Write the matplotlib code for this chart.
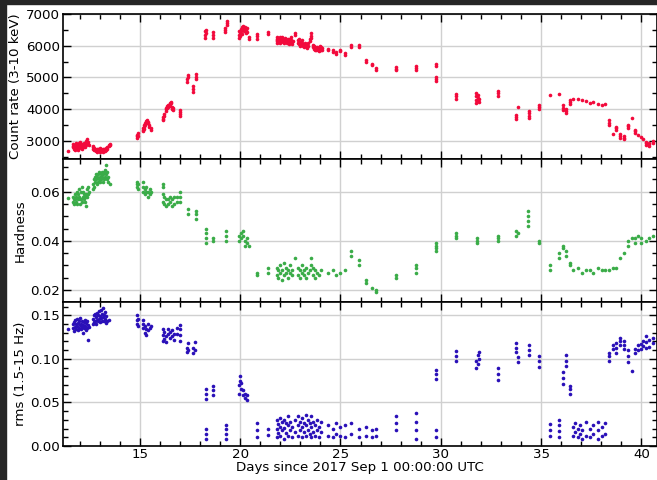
import numpy as np
import matplotlib
matplotlib.use('Agg')
import matplotlib.pyplot as plt
from matplotlib.ticker import MultipleLocator
from matplotlib.patches import Rectangle

# count rate (3-10 keV): (day, counts/s)
rate_obs = [
    (11.43, 2690),
    (11.68, 2850), (11.68, 2800), (11.68, 2900), (11.72, 2750), (11.72, 2820),
    (11.78, 2700), (11.78, 2780), (11.78, 2850), (11.83, 2880), (11.83, 2950),
    (11.88, 2800), (11.88, 2870), (11.93, 2720), (11.93, 2760), (11.98, 2800),
    (11.98, 2880), (11.98, 2950), (12.03, 2900), (12.03, 2970), (12.08, 2850),
    (12.08, 2780), (12.13, 2760), (12.13, 2820), (12.13, 2900), (12.18, 2850),
    (12.18, 2800), (12.23, 2880), (12.23, 2940), (12.28, 2820), (12.28, 2900),
    (12.33, 2860), (12.33, 2950), (12.33, 3000), (12.38, 2950), (12.38, 3050),
    (12.42, 2900), (12.42, 2980), (12.47, 2860),
    (12.66, 2850), (12.66, 2800), (12.66, 2750), (12.70, 2780), (12.70, 2720),
    (12.75, 2700), (12.75, 2760), (12.80, 2680), (12.80, 2720), (12.85, 2650),
    (12.85, 2700), (12.85, 2760), (12.90, 2700), (12.90, 2740), (12.95, 2680),
    (12.95, 2720), (13.00, 2660), (13.00, 2700), (13.00, 2780), (13.05, 2700),
    (13.05, 2740), (13.10, 2680), (13.10, 2720), (13.15, 2660), (13.15, 2760),
    (13.20, 2700), (13.20, 2740), (13.25, 2680), (13.25, 2720), (13.30, 2720),
    (13.30, 2780), (13.38, 2760), (13.38, 2820), (13.45, 2840), (13.45, 2880),
    (13.50, 2860), (13.50, 2900),
    (14.85, 3100), (14.85, 3150), (14.85, 3200), (14.92, 3150), (14.92, 3250),
    (15.17, 3300), (15.17, 3350), (15.17, 3400), (15.22, 3380), (15.22, 3450),
    (15.22, 3500), (15.28, 3500), (15.28, 3560), (15.33, 3550), (15.33, 3620),
    (15.38, 3600), (15.38, 3650), (15.43, 3560), (15.43, 3600), (15.48, 3450),
    (15.48, 3500), (15.55, 3350), (15.55, 3400),
    (16.16, 3650), (16.16, 3700), (16.16, 3750), (16.20, 3800), (16.20, 3850),
    (16.28, 3950), (16.28, 4000), (16.28, 4050), (16.35, 4050), (16.35, 4100),
    (16.42, 4080), (16.42, 4120), (16.50, 4100), (16.50, 4150), (16.50, 4200),
    (16.56, 4180), (16.56, 4230), (16.62, 4080), (16.62, 4000), (16.66, 4050),
    (16.66, 3980),
    (17.00, 3800), (17.00, 3850), (17.00, 3900), (17.00, 3960),
    (17.36, 4850), (17.36, 4950), (17.42, 5000), (17.42, 5080),
    (17.66, 4550), (17.66, 4650), (17.66, 4720),
    (17.80, 4950), (17.80, 5030), (17.80, 5100),
    (18.27, 6250), (18.27, 6350), (18.27, 6450), (18.31, 6400), (18.31, 6500),
    (18.65, 6250), (18.65, 6330), (18.65, 6420),
    (19.23, 6420), (19.23, 6500), (19.23, 6560), (19.32, 6650), (19.32, 6720),
    (19.32, 6790),
    (19.95, 6250), (19.95, 6350), (19.95, 6450), (20.00, 6300), (20.00, 6400),
    (20.05, 6450), (20.05, 6520), (20.10, 6380), (20.10, 6500), (20.10, 6580),
    (20.15, 6550), (20.15, 6620), (20.20, 6450), (20.20, 6520), (20.25, 6500),
    (20.25, 6600), (20.30, 6400), (20.30, 6480), (20.35, 6420), (20.35, 6550),
    (20.44, 6200), (20.44, 6260),
    (20.84, 6220), (20.84, 6300), (20.84, 6360),
    (21.39, 6360), (21.39, 6420),
    (21.82, 6150), (21.82, 6220), (21.82, 6280), (21.86, 6100), (21.86, 6180),
    (21.90, 6200), (21.90, 6250), (21.95, 6130), (21.95, 6200), (22.00, 6100),
    (22.00, 6180), (22.00, 6260), (22.05, 6150), (22.05, 6230), (22.10, 6200),
    (22.10, 6270), (22.15, 6130), (22.15, 6210), (22.20, 6100), (22.20, 6190),
    (22.25, 6180), (22.25, 6240), (22.30, 6120), (22.30, 6200), (22.35, 6080),
    (22.35, 6150), (22.40, 6130), (22.40, 6210), (22.45, 6050), (22.45, 6140),
    (22.50, 6100), (22.50, 6200), (22.55, 6180), (22.55, 6260), (22.60, 6070),
    (22.60, 6120), (22.64, 6150),
    (22.72, 6350), (22.72, 6400),
    (22.90, 6100), (22.90, 6170), (22.95, 6050), (22.95, 6130), (22.95, 6200),
    (23.00, 6000), (23.00, 6080), (23.05, 6050), (23.05, 6120), (23.10, 6100),
    (23.10, 6180), (23.15, 6050), (23.15, 6000), (23.20, 5950), (23.20, 6030),
    (23.25, 6000), (23.25, 6080), (23.30, 5980), (23.30, 6050), (23.35, 5920),
    (23.35, 6000), (23.40, 6000), (23.40, 6100), (23.47, 6150), (23.47, 6220),
    (23.55, 6250), (23.55, 6320), (23.55, 6400),
    (23.62, 5950), (23.62, 6020), (23.67, 5900), (23.67, 5980), (23.72, 5880),
    (23.72, 5950), (23.78, 5850), (23.78, 5930), (23.83, 5900), (23.83, 5970),
    (23.88, 5860), (23.88, 5940), (23.93, 5820), (23.93, 5900), (23.98, 5900),
    (23.98, 5980), (24.03, 5880), (24.03, 5960), (24.08, 5870), (24.08, 5920),
    (24.38, 5850), (24.38, 5910), (24.63, 5800), (24.63, 5860), (24.79, 5740),
    (24.79, 5800), (25.00, 5820), (25.00, 5880), (25.24, 5720), (25.24, 5780),
    (25.54, 5950), (25.54, 6010), (25.92, 5950), (25.92, 6020),
    (26.25, 5480), (26.25, 5540), (26.59, 5380), (26.59, 5430), (26.79, 5240),
    (26.79, 5290),
    (27.78, 5220), (27.78, 5280), (27.78, 5340),
    (28.78, 5220), (28.78, 5290), (28.78, 5360),
    (29.74, 5350), (29.74, 5420), (29.74, 4880), (29.74, 4950), (29.74, 5020),
    (30.77, 4330), (30.77, 4400), (30.77, 4470),
    (31.77, 4200), (31.77, 4300), (31.77, 4400), (31.77, 4500), (31.83, 4250),
    (31.83, 4350), (31.83, 4450), (31.90, 4220), (31.90, 4320),
    (32.84, 4430), (32.84, 4500), (32.84, 4560),
    (33.76, 3680), (33.76, 3750), (33.76, 3820), (33.87, 4060),
    (34.39, 3720), (34.39, 3800), (34.39, 3880), (34.39, 3930),
    (34.89, 4000), (34.89, 4060), (34.89, 4120),
    (35.42, 4450), (35.87, 4480),
    (36.08, 3970), (36.08, 4050), (36.08, 4120), (36.25, 3880), (36.25, 3950),
    (36.25, 4000), (36.45, 4150), (36.45, 4220), (36.45, 4290),
    (36.61, 4320), (36.83, 4330), (37.05, 4280), (37.24, 4250), (37.44, 4190),
    (37.61, 4220), (37.81, 4170), (38.01, 4140), (38.19, 4170),
    (38.37, 3510), (38.37, 3580), (38.37, 3650), (38.57, 3220),
    (38.74, 3330), (38.74, 3400), (38.74, 3450),
    (38.95, 3090), (38.95, 3160), (38.95, 3220), (39.15, 3060), (39.15, 3100),
    (39.15, 3140), (39.34, 3410), (39.34, 3460), (39.34, 3500), (39.52, 3710),
    (39.70, 3250), (39.70, 3300), (39.70, 3350), (39.85, 3190), (39.99, 3120),
    (40.07, 3060), (40.23, 2880), (40.23, 2930), (40.23, 2980),
    (40.40, 2830), (40.40, 2900), (40.40, 2950), (40.56, 2950), (40.56, 3000),
]

# hardness ratio: (day, hardness)
hard_obs = [
    (11.43, 0.0576),
    (11.68, 0.056), (11.68, 0.058), (11.73, 0.055), (11.73, 0.057), (11.78, 0.057),
    (11.78, 0.059), (11.83, 0.056), (11.83, 0.058), (11.88, 0.055), (11.88, 0.060),
    (11.93, 0.057), (11.93, 0.059), (11.98, 0.058), (11.98, 0.061), (12.03, 0.055),
    (12.03, 0.057), (12.08, 0.057), (12.08, 0.060), (12.13, 0.056), (12.13, 0.062),
    (12.18, 0.058), (12.18, 0.060), (12.23, 0.057), (12.23, 0.059), (12.28, 0.056),
    (12.28, 0.058), (12.33, 0.054), (12.33, 0.059), (12.38, 0.058), (12.38, 0.061),
    (12.43, 0.059), (12.43, 0.062), (12.47, 0.060),
    (12.66, 0.061), (12.66, 0.063), (12.72, 0.062), (12.72, 0.065), (12.78, 0.064),
    (12.78, 0.066), (12.83, 0.065), (12.83, 0.067), (12.88, 0.063), (12.88, 0.066),
    (12.93, 0.064), (12.93, 0.067), (12.98, 0.065), (12.98, 0.068), (13.03, 0.066),
    (13.03, 0.064), (13.08, 0.065), (13.08, 0.067), (13.13, 0.066), (13.13, 0.068),
    (13.18, 0.064), (13.18, 0.067), (13.23, 0.065), (13.23, 0.068), (13.28, 0.066),
    (13.28, 0.069), (13.33, 0.067), (13.33, 0.071), (13.38, 0.065), (13.38, 0.068),
    (13.43, 0.064), (13.43, 0.066), (13.50, 0.063),
    (14.85, 0.062), (14.85, 0.063), (14.85, 0.064), (14.92, 0.061), (14.92, 0.063),
    (15.17, 0.060), (15.17, 0.062), (15.17, 0.064), (15.25, 0.059), (15.25, 0.061),
    (15.33, 0.060), (15.33, 0.062), (15.40, 0.058), (15.40, 0.060), (15.50, 0.059),
    (15.50, 0.061), (15.58, 0.060),
    (16.16, 0.056), (16.16, 0.059), (16.16, 0.062), (16.16, 0.063), (16.22, 0.055),
    (16.22, 0.058), (16.30, 0.054), (16.30, 0.057), (16.40, 0.055), (16.40, 0.057),
    (16.50, 0.056), (16.50, 0.058), (16.60, 0.054), (16.60, 0.057), (16.70, 0.055),
    (16.70, 0.058), (16.83, 0.056), (16.83, 0.058),
    (16.99, 0.056), (16.99, 0.058), (16.99, 0.060),
    (17.39, 0.051), (17.39, 0.053), (17.79, 0.049), (17.79, 0.051), (17.79, 0.052),
    (18.29, 0.039), (18.29, 0.041), (18.29, 0.043), (18.29, 0.045),
    (18.65, 0.040), (18.65, 0.041),
    (19.30, 0.040), (19.30, 0.042), (19.30, 0.044),
    (19.95, 0.040), (19.95, 0.042), (20.05, 0.041), (20.05, 0.043), (20.15, 0.042),
    (20.15, 0.044), (20.25, 0.040), (20.25, 0.038), (20.35, 0.039), (20.35, 0.041),
    (20.44, 0.038),
    (20.84, 0.026), (20.84, 0.027), (21.39, 0.027), (21.39, 0.029),
    (21.82, 0.026), (21.82, 0.029), (21.90, 0.025), (21.90, 0.028), (22.00, 0.027),
    (22.00, 0.030), (22.10, 0.024), (22.10, 0.028), (22.20, 0.026), (22.20, 0.031),
    (22.30, 0.027), (22.30, 0.029), (22.40, 0.025), (22.40, 0.028), (22.50, 0.027),
    (22.50, 0.030), (22.60, 0.026), (22.60, 0.028), (22.72, 0.033),
    (22.90, 0.026), (22.90, 0.029), (23.00, 0.025), (23.00, 0.028), (23.10, 0.027),
    (23.10, 0.030), (23.20, 0.026), (23.20, 0.028), (23.30, 0.025), (23.30, 0.029),
    (23.40, 0.027), (23.47, 0.028), (23.55, 0.030), (23.55, 0.033),
    (23.65, 0.026), (23.65, 0.029), (23.75, 0.025), (23.75, 0.028), (23.85, 0.027),
    (23.95, 0.026), (24.05, 0.028),
    (24.38, 0.027), (24.63, 0.028), (24.79, 0.026), (25.00, 0.027), (25.24, 0.028),
    (25.54, 0.034), (25.54, 0.036), (25.92, 0.030), (25.92, 0.032),
    (26.25, 0.023), (26.25, 0.024), (26.59, 0.021), (26.79, 0.019), (26.79, 0.020),
    (27.78, 0.025), (27.78, 0.026),
    (28.78, 0.027), (28.78, 0.029), (28.78, 0.030),
    (29.74, 0.036), (29.74, 0.037), (29.74, 0.038), (29.74, 0.039),
    (30.77, 0.041), (30.77, 0.042), (30.77, 0.043),
    (31.80, 0.039), (31.80, 0.040), (31.80, 0.041),
    (32.84, 0.040), (32.84, 0.041), (32.84, 0.042),
    (33.76, 0.042), (33.76, 0.044), (33.87, 0.043),
    (34.35, 0.046), (34.35, 0.048), (34.35, 0.050), (34.35, 0.052),
    (34.89, 0.039), (34.89, 0.040),
    (35.42, 0.028), (35.42, 0.030), (35.87, 0.033), (35.87, 0.035),
    (36.08, 0.037), (36.08, 0.038), (36.25, 0.034), (36.25, 0.036),
    (36.45, 0.030), (36.45, 0.031),
    (36.61, 0.028), (36.83, 0.029), (37.05, 0.027), (37.24, 0.028), (37.44, 0.028),
    (37.61, 0.027), (37.81, 0.029), (38.01, 0.028), (38.19, 0.028),
    (38.37, 0.028), (38.57, 0.029), (38.74, 0.029), (38.95, 0.033), (39.15, 0.035),
    (39.34, 0.038), (39.34, 0.040), (39.52, 0.041), (39.70, 0.039), (39.70, 0.041),
    (39.85, 0.042), (40.00, 0.039), (40.00, 0.041), (40.23, 0.040), (40.40, 0.041),
    (40.56, 0.042),
]

# fractional rms 1.5-15 Hz: (day, rms)
rms_obs = [
    (11.43, 0.134),
    (11.68, 0.135), (11.68, 0.140), (11.73, 0.132), (11.73, 0.142), (11.78, 0.137),
    (11.78, 0.145), (11.83, 0.134), (11.83, 0.140), (11.88, 0.138), (11.88, 0.146),
    (11.93, 0.133), (11.93, 0.141), (11.98, 0.136), (11.98, 0.143), (12.03, 0.139),
    (12.03, 0.147), (12.08, 0.134), (12.08, 0.140), (12.13, 0.137), (12.13, 0.144),
    (12.18, 0.130), (12.18, 0.139), (12.23, 0.135), (12.23, 0.142), (12.28, 0.138),
    (12.28, 0.145), (12.33, 0.133), (12.33, 0.141), (12.38, 0.136), (12.38, 0.143),
    (12.43, 0.122), (12.43, 0.139), (12.47, 0.137),
    (12.66, 0.140), (12.66, 0.146), (12.72, 0.142), (12.72, 0.150), (12.78, 0.144),
    (12.78, 0.152), (12.83, 0.140), (12.83, 0.148), (12.88, 0.145), (12.88, 0.153),
    (12.93, 0.143), (12.93, 0.150), (12.98, 0.146), (12.98, 0.155), (13.03, 0.142),
    (13.03, 0.149), (13.08, 0.147), (13.08, 0.156), (13.13, 0.144), (13.13, 0.151),
    (13.18, 0.148), (13.18, 0.158), (13.23, 0.143), (13.23, 0.150), (13.28, 0.146),
    (13.28, 0.154), (13.33, 0.141), (13.33, 0.149), (13.38, 0.144), (13.45, 0.145),
    (14.85, 0.140), (14.85, 0.145), (14.85, 0.150), (14.92, 0.138), (14.92, 0.146),
    (15.17, 0.135), (15.17, 0.140), (15.17, 0.145), (15.25, 0.130), (15.25, 0.138),
    (15.33, 0.127), (15.33, 0.134), (15.40, 0.133), (15.40, 0.140), (15.50, 0.136),
    (15.58, 0.138),
    (16.16, 0.120), (16.16, 0.127), (16.16, 0.134), (16.22, 0.123), (16.22, 0.131),
    (16.30, 0.119), (16.30, 0.126), (16.40, 0.128), (16.40, 0.134), (16.50, 0.124),
    (16.50, 0.131), (16.60, 0.126), (16.60, 0.133), (16.70, 0.122), (16.70, 0.129),
    (16.83, 0.128), (16.83, 0.136),
    (16.99, 0.120), (16.99, 0.127), (16.99, 0.134), (16.99, 0.139),
    (17.36, 0.108), (17.36, 0.113), (17.42, 0.110), (17.42, 0.118),
    (17.66, 0.107), (17.66, 0.113), (17.75, 0.110), (17.75, 0.119),
    (18.29, 0.054), (18.29, 0.060), (18.29, 0.066), (18.29, 0.008), (18.29, 0.014),
    (18.29, 0.020),
    (18.65, 0.059), (18.65, 0.064), (18.65, 0.069),
    (19.30, 0.008), (19.30, 0.014), (19.30, 0.020), (19.30, 0.024),
    (19.95, 0.060), (19.95, 0.070), (20.00, 0.075), (20.00, 0.080), (20.05, 0.066),
    (20.05, 0.072), (20.15, 0.058), (20.15, 0.064), (20.25, 0.055), (20.25, 0.060),
    (20.35, 0.053), (20.35, 0.058),
    (20.84, 0.010), (20.84, 0.018), (20.84, 0.026), (21.39, 0.013), (21.39, 0.020),
    (21.82, 0.010), (21.82, 0.020), (21.82, 0.030), (21.90, 0.015), (21.90, 0.025),
    (22.00, 0.012), (22.00, 0.022), (22.00, 0.032), (22.10, 0.018), (22.10, 0.028),
    (22.20, 0.008), (22.20, 0.021), (22.20, 0.030), (22.30, 0.015), (22.30, 0.026),
    (22.40, 0.012), (22.40, 0.024), (22.40, 0.034), (22.50, 0.018), (22.50, 0.028),
    (22.60, 0.010), (22.60, 0.022), (22.72, 0.016), (22.72, 0.030),
    (22.90, 0.012), (22.90, 0.024), (22.90, 0.034), (23.00, 0.018), (23.00, 0.028),
    (23.10, 0.010), (23.10, 0.022), (23.10, 0.032), (23.20, 0.016), (23.20, 0.026),
    (23.30, 0.012), (23.30, 0.024), (23.30, 0.036), (23.40, 0.018), (23.40, 0.030),
    (23.47, 0.014), (23.47, 0.026), (23.55, 0.010), (23.55, 0.022), (23.55, 0.034),
    (23.65, 0.016), (23.65, 0.028), (23.75, 0.012), (23.75, 0.024), (23.85, 0.018),
    (23.85, 0.030), (23.95, 0.010), (23.95, 0.022), (24.05, 0.016), (24.05, 0.028),
    (24.38, 0.012), (24.38, 0.024), (24.63, 0.010), (24.63, 0.020), (24.79, 0.014),
    (24.79, 0.026), (25.00, 0.012), (25.00, 0.022), (25.24, 0.010), (25.24, 0.024),
    (25.54, 0.014), (25.54, 0.026), (25.92, 0.010), (25.92, 0.020),
    (26.25, 0.012), (26.25, 0.022), (26.59, 0.010), (26.59, 0.018), (26.79, 0.012),
    (26.79, 0.020),
    (27.78, 0.018), (27.78, 0.026), (27.78, 0.034),
    (28.78, 0.008), (28.78, 0.018), (28.78, 0.028), (28.78, 0.038),
    (29.74, 0.010), (29.74, 0.018), (29.74, 0.077), (29.74, 0.083), (29.74, 0.087),
    (30.77, 0.097), (30.77, 0.103), (30.77, 0.109),
    (31.77, 0.090), (31.77, 0.098), (31.83, 0.094), (31.83, 0.104), (31.90, 0.100),
    (31.90, 0.108),
    (32.84, 0.076), (32.84, 0.083), (32.84, 0.090),
    (33.76, 0.108), (33.76, 0.113), (33.76, 0.118), (33.87, 0.096), (33.87, 0.102),
    (34.39, 0.104), (34.39, 0.110), (34.39, 0.116),
    (34.89, 0.091), (34.89, 0.097), (34.89, 0.103),
    (35.42, 0.011), (35.42, 0.018), (35.42, 0.025),
    (35.87, 0.010), (35.87, 0.017), (35.87, 0.024), (35.87, 0.030),
    (36.08, 0.071), (36.08, 0.078), (36.08, 0.085), (36.25, 0.092), (36.25, 0.098),
    (36.25, 0.104), (36.45, 0.060), (36.45, 0.065), (36.45, 0.069),
    (36.61, 0.012), (36.61, 0.022), (36.70, 0.016), (36.70, 0.026), (36.83, 0.010),
    (36.83, 0.020), (36.95, 0.014), (36.95, 0.024), (37.05, 0.008), (37.05, 0.018),
    (37.24, 0.012), (37.24, 0.028), (37.44, 0.010), (37.44, 0.020), (37.61, 0.014),
    (37.61, 0.024), (37.81, 0.008), (37.81, 0.018), (37.81, 0.028), (38.01, 0.012),
    (38.01, 0.022), (38.19, 0.014), (38.19, 0.026),
    (38.37, 0.097), (38.37, 0.103), (38.37, 0.107), (38.57, 0.111), (38.57, 0.116),
    (38.74, 0.107), (38.74, 0.112), (38.74, 0.118), (38.95, 0.116), (38.95, 0.120),
    (38.95, 0.124), (39.15, 0.111), (39.15, 0.116), (39.15, 0.121), (39.34, 0.096),
    (39.34, 0.103), (39.34, 0.110), (39.52, 0.086), (39.70, 0.107), (39.70, 0.111),
    (39.85, 0.110), (39.85, 0.116), (40.00, 0.111), (40.00, 0.117), (40.07, 0.115),
    (40.07, 0.121), (40.23, 0.112), (40.23, 0.119), (40.23, 0.126), (40.40, 0.114),
    (40.40, 0.122), (40.56, 0.118), (40.56, 0.124),
]

ylabels = ['Count rate (3-10 keV)', 'Hardness', 'rms (1.5-15 Hz)']
xlabel = 'Days since 2017 Sep 1 00:00:00 UTC'
colors = ['#f20a3c', '#3aac48', '#2a10b8']
ylims = [(2430, 7000), (0.0151, 0.0733), (0.0, 0.1653)]
major_steps = [1000, 0.02, 0.05]
minor_steps = [500, 0.005, 0.01]
fs = 9.6

fig = plt.figure(figsize=(6.57, 4.80), dpi=100)
fig.patches.append(Rectangle((0, 0), 6 / 657, 1, transform=fig.transFigure,
                             color='#262626', zorder=-1))
fig.patches.append(Rectangle((0, 1 - 4 / 480), 1, 4 / 480, transform=fig.transFigure,
                             color='#262626', zorder=-1))

left, right = 63 / 657, 656.5 / 657
tops = [1 - 14 / 480, 1 - 159 / 480, 1 - 302 / 480]
bots = [1 - 159 / 480, 1 - 302 / 480, 1 - 446 / 480]

axes = []
for i, data in enumerate([rate_obs, hard_obs, rms_obs]):
    ax = fig.add_axes([left, bots[i], right - left, tops[i] - bots[i]],
                      sharex=axes[0] if axes else None)
    d = np.array(data)
    ax.plot(d[:, 0], d[:, 1], 'o', ms=2.6, mew=0, color=colors[i], zorder=3)
    ax.set_ylim(*ylims[i])
    ax.set_xlim(11.17, 40.75)
    ax.yaxis.set_major_locator(MultipleLocator(major_steps[i]))
    ax.yaxis.set_minor_locator(MultipleLocator(minor_steps[i]))
    ax.xaxis.set_major_locator(MultipleLocator(5))
    ax.xaxis.set_minor_locator(MultipleLocator(1))
    ax.grid(True, which='major', color='#d0d0d0', lw=1.0, zorder=0)
    ax.tick_params(which='both', direction='in', top=True, right=True,
                   labelsize=fs)
    ax.tick_params(which='major', length=6, width=1.0)
    ax.tick_params(which='minor', length=3.5, width=1.0)
    ax.tick_params(axis='x', which='major', pad=1.5)
    ax.tick_params(axis='y', which='major', pad=2.2)
    for s in ax.spines.values():
        s.set_linewidth(1.2)
    ax.set_ylabel(ylabels[i], fontsize=fs, labelpad=2.5)
    if i < 2:
        ax.tick_params(labelbottom=False)
    axes.append(ax)

axes[2].set_xlabel(xlabel, fontsize=fs, labelpad=0)

fig.savefig('out.png', dpi=100)
